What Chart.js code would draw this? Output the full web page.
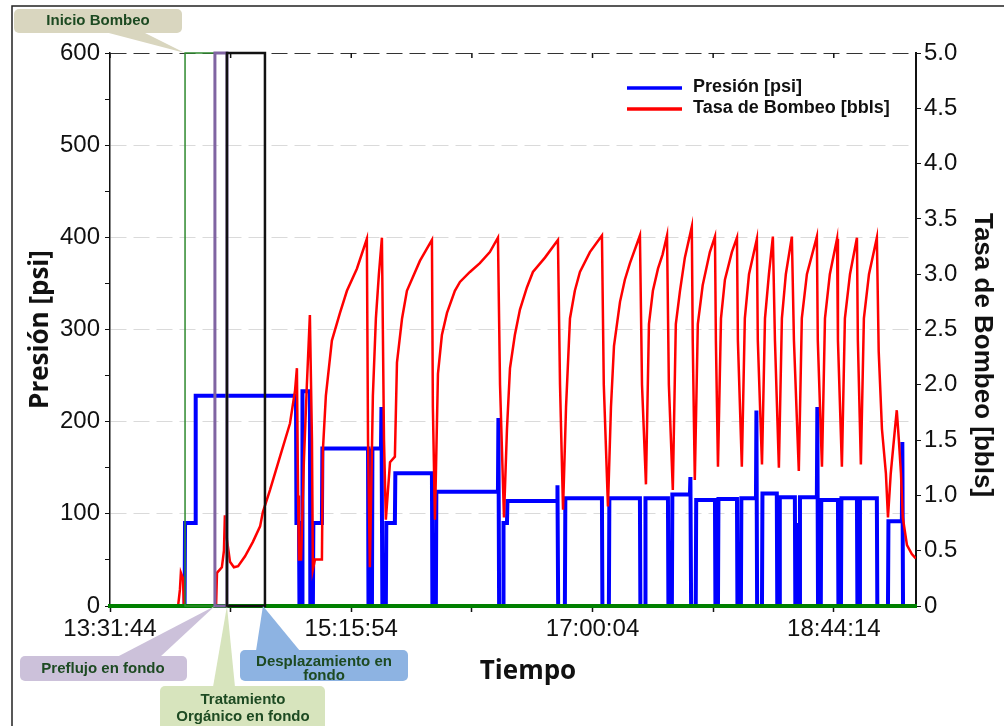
<!DOCTYPE html>
<html>
<head>
<meta charset="utf-8">
<title>Presión y Tasa de Bombeo</title>
<script src="https://cdn.jsdelivr.net/npm/chart.js@4.4.1/dist/chart.umd.min.js"></script>
<style>
  html, body { margin: 0; padding: 0; background: #fff; }
  canvas { display: block; }
</style>
</head>
<body>
<canvas id="chart" width="1004" height="726"></canvas>
<script>
// Time axis: minutes elapsed since the start of the log
const startTime = '13:31:44';
const timeLabels = ['13:31:44', '15:15:54', '17:00:04', '18:44:14'];
const endMinute = 348;

// Presión [psi]
const pressureTime = [
  0, 32.2, 32.4, 36.8, 37.0, 80.3, 80.5, 81.6, 81.8, 82.9,
  83.1, 86.3, 86.5, 87.6, 87.8, 91.5, 91.7, 111.4, 111.6, 113.1,
  113.3, 117.0, 117.2, 117.6, 119.1, 119.3, 123.0, 123.2, 139.0, 139.2,
  140.7, 140.9, 167.5, 167.7, 168.0, 169.7, 169.9, 171.4, 171.6, 193.0,
  193.2, 193.5, 196.4, 196.6, 212.4, 212.6, 215.4, 215.6, 228.8, 229.0,
  231.0, 231.2, 240.9, 241.1, 242.6, 242.8, 250.4, 250.6, 250.9, 252.9,
  253.1, 261.2, 261.4, 262.5, 262.7, 270.7, 270.9, 272.4, 272.6, 278.9,
  279.1, 279.4, 281.5, 281.7, 287.9, 288.1, 289.0, 289.2, 295.7, 295.9,
  296.3, 296.7, 297.1, 297.5, 297.9, 305.2, 305.4, 305.7, 306.9, 307.1,
  314.3, 314.5, 315.6, 315.8, 322.5, 322.7, 323.6, 323.8, 331.1, 331.3,
  335.9, 336.1, 341.9, 342.1, 342.4, 348
];
const pressure = [
  0, 0, 90, 90, 228, 228, 90, 90, 0, 0,
  233, 233, 0, 0, 90, 90, 171, 171, 0, 0,
  171, 171, 216, 0, 0, 90, 90, 144, 144, 0,
  0, 124, 124, 204, 0, 0, 90, 90, 114, 114,
  131, 0, 0, 117, 117, 0, 0, 117, 117, 0,
  0, 117, 117, 0, 0, 121, 121, 140, 0, 0,
  115, 115, 0, 0, 116, 116, 0, 0, 117, 117,
  212, 0, 0, 122, 122, 0, 0, 118, 118, 0,
  90, 0, 90, 0, 118, 118, 216, 0, 0, 115,
  115, 0, 0, 117, 117, 0, 0, 117, 117, 0,
  0, 92, 92, 178, 0, 0
];

// Tasa de Bombeo [bbls]
const rateTime = [
  0, 29.4, 30.2, 30.6, 31.5, 31.9,
  45.8, 46.2, 48.3, 49.2, 49.6, 50.5, 51.8, 53.5, 55.3, 58.3, 61.7, 64.8, 66.0, 69.1, 73.4, 77.7, 79.9, 80.7,
  81.2, 81.6, 82.5, 83.7, 85.0, 86.3,
  87.2, 87.6, 88.5, 91.5, 91.9, 93.2, 95.8, 99.3, 102.3, 106.6, 110.9,
  111.4, 112.2, 113.5, 114.8, 116.1, 117.4,
  118.3, 119.1, 120.9, 123.0, 123.9, 126.1, 128.2, 133.8, 139.0,
  139.4, 140.3, 141.6, 143.3, 145.5, 148.9, 151.1, 155.4, 159.7, 164.0, 167.5,
  168.4, 170.1, 171.4, 172.7, 174.8, 177.0, 180.0, 182.6, 187.8, 193.4,
  194.3, 195.6, 196.9, 198.6, 200.7, 202.9, 207.2, 212.4,
  213.2, 215.0, 216.3, 217.6, 220.2, 222.3, 224.5, 228.8,
  229.7, 231.4, 232.7, 234.4, 236.6, 238.6, 240.5,
  241.3, 243.0, 244.3, 246.1, 248.2, 251.2,
  251.6, 252.5, 253.8, 255.9, 259.0, 261.2,
  261.6, 262.5, 263.8, 265.5, 268.5, 270.7,
  271.1, 272.8, 274.1, 275.9, 279.3,
  279.7, 281.5, 282.8, 284.5, 286.2,
  287.1, 288.8, 290.1, 291.8, 294.4,
  295.3, 297.4, 298.7, 300.9, 305.2,
  305.6, 307.4, 308.7, 310.8, 313.9,
  314.3, 316.0, 317.3, 319.5, 322.5,
  322.9, 324.2, 325.5, 327.7, 331.1,
  331.9, 333.3, 335.0, 335.9, 337.1, 338.9, 339.7, 340.6, 341.5, 342.3, 344.1, 346.2, 347.9
];
const rate = [
  0, 0, 0.15, 0.3, 0.25, 0,
  0, 0.3, 0.35, 0.5, 0.82, 0.6, 0.4, 0.35, 0.36, 0.45, 0.58, 0.72, 0.85, 1.05, 1.35, 1.65, 1.95, 2.15,
  1.0, 0.42, 0.42, 1.3, 2.0, 2.63,
  1.5, 0.33, 0.42, 0.42, 1.4, 1.9, 2.4, 2.65, 2.85, 3.05, 3.32,
  1.5, 0.35, 1.9, 2.6, 3.0, 3.33,
  1.5, 0.78, 1.3, 1.35, 2.2, 2.6, 2.85, 3.12, 3.31,
  1.8, 0.78, 2.1, 2.45, 2.65, 2.85, 2.93, 3.02, 3.1, 3.2, 3.33,
  2.0, 0.8, 1.6, 2.15, 2.45, 2.68, 2.88, 3.02, 3.15, 3.31,
  2.0, 0.87, 1.8, 2.6, 2.85, 3.02, 3.2, 3.35,
  2.0, 0.9, 1.8, 2.35, 2.75, 2.95, 3.1, 3.35,
  2.0, 1.1, 2.55, 2.85, 3.05, 3.18, 3.35,
  2.0, 1.05, 2.55, 2.85, 3.15, 3.43,
  2.4, 1.14, 2.55, 2.9, 3.2, 3.34,
  2.4, 1.26, 2.6, 2.95, 3.2, 3.33,
  2.4, 1.26, 2.6, 3.0, 3.32,
  2.4, 1.28, 2.6, 3.0, 3.34,
  2.4, 1.25, 2.6, 3.0, 3.34,
  2.4, 1.22, 2.6, 3.0, 3.34,
  2.4, 1.26, 2.6, 3.0, 3.32,
  2.4, 1.26, 2.6, 3.0, 3.33,
  2.4, 1.28, 2.6, 3.0, 3.33,
  2.3, 1.6, 1.2, 0.8, 1.2, 1.6, 1.77, 1.5, 1.2, 0.8, 0.55, 0.47, 0.43
];

// Stage limits (minutes from start): inicio, preflujo, tratamiento, fin desplazamiento
const stageEdges = [32.4, 45.3, 50.5, 66.9];

function toSeconds(hms) {
  const p = hms.split(':').map(Number);
  return p[0] * 3600 + p[1] * 60 + p[2];
}

const labelMinutes = timeLabels.map(t => (toSeconds(t) - toSeconds(startTime)) / 60);

// major ticks with a minor tick half way between them
function buildTimeTicks() {
  const step = labelMinutes[1] - labelMinutes[0];
  const ticks = [];
  for (let v = 0; v <= endMinute + 0.01; v += step / 2) ticks.push({ value: v });
  return ticks;
}

function timeLabel(value) {
  const idx = labelMinutes.findIndex(m => Math.abs(m - value) < 0.01);
  return idx >= 0 ? timeLabels[idx] : '';
}

const tickFont = { family: "'Liberation Sans', Arial, sans-serif", size: 24 };
const titleFont = { family: "'Open Sans', sans-serif", size: 26, weight: 'bold' };
const noteFont = 'bold 15px "Liberation Sans", Arial, sans-serif';
const noteText = '#1d4a22';

function callout(ctx, box, base, tip, fill, lines) {
  ctx.save();
  ctx.fillStyle = fill;
  ctx.beginPath();
  ctx.roundRect(box.x, box.y, box.w, box.h, 5);
  ctx.fill();
  ctx.beginPath();
  ctx.moveTo(base[0], base[2]);
  ctx.lineTo(base[1], base[2]);
  ctx.lineTo(tip.x, tip.y);
  ctx.closePath();
  ctx.fill();
  ctx.fillStyle = noteText;
  ctx.font = noteFont;
  ctx.textAlign = 'center';
  ctx.textBaseline = 'middle';
  lines.forEach(l => ctx.fillText(l.text, l.x, l.y));
  ctx.restore();
}

const overlay = {
  id: 'overlay',
  beforeDraw(chart) {
    const ctx = chart.ctx;
    ctx.save();
    ctx.fillStyle = '#fff';
    ctx.fillRect(0, 0, chart.width, chart.height);
    ctx.restore();
  },
  afterDraw(chart) {
    const { ctx, chartArea: a, scales: { x } } = chart;
    const px = stageEdges.map(v => x.getPixelForValue(v));

    // stage boxes, drawn over the lines and the green base line
    ctx.save();
    ctx.strokeStyle = '#2f8a2f';
    ctx.lineWidth = 1.5;
    ctx.strokeRect(px[0], a.top, px[1] - px[0], a.bottom - a.top);
    ctx.strokeStyle = '#8064a2';
    ctx.lineWidth = 3;
    ctx.strokeRect(px[1], a.top, px[2] - px[1], a.bottom - a.top);
    ctx.strokeStyle = '#111';
    ctx.lineWidth = 2.5;
    ctx.strokeRect(px[2], a.top, px[3] - px[2], a.bottom - a.top);

    // small inward ticks on the top edge
    ctx.strokeStyle = '#111';
    ctx.lineWidth = 1.5;
    x.ticks.forEach(t => {
      const p = x.getPixelForValue(t.value);
      ctx.beginPath();
      ctx.moveTo(p, a.top);
      ctx.lineTo(p, a.top + 5);
      ctx.stroke();
    });

    // legend
    ctx.font = 'bold 18px "Liberation Sans", Arial, sans-serif';
    ctx.textBaseline = 'middle';
    ctx.textAlign = 'left';
    const ds = chart.data.datasets;
    [ds[0], ds[1]].forEach((d, i) => {
      const y = 88 + i * 21;
      ctx.strokeStyle = d.borderColor;
      ctx.lineWidth = 3.5;
      ctx.beginPath();
      ctx.moveTo(627, y);
      ctx.lineTo(682, y);
      ctx.stroke();
      ctx.fillStyle = '#111';
      ctx.fillText(d.label, 693, y - 1);
    });

    // axis titles placed as in the original figure
    ctx.fillStyle = '#111';
    ctx.textAlign = 'center';
    ctx.font = 'bold 26px "Open Sans", sans-serif';
    ctx.fillText('Tiempo', 528, 672);
    ctx.save();
    ctx.translate(982, 355);
    ctx.rotate(Math.PI / 2);
    ctx.font = 'bold 26px "Liberation Sans", Arial, sans-serif';
    ctx.fillText('Tasa de Bombeo [bbls]', 0, 0);
    ctx.restore();

    // frame around the figure
    ctx.strokeStyle = '#222';
    ctx.lineWidth = 1.5;
    ctx.beginPath();
    ctx.moveTo(12, 726);
    ctx.lineTo(12, 6);
    ctx.lineTo(1004, 6);
    ctx.stroke();
    ctx.restore();

    callout(ctx, { x: 14, y: 9, w: 168, h: 24 }, [105, 143, 32], { x: px[0], y: a.top },
      '#d9d6bf', [{ text: 'Inicio Bombeo', x: 98, y: 21 }]);
    callout(ctx, { x: 20, y: 656, w: 167, h: 25 }, [117, 160, 657], { x: px[1], y: a.bottom },
      '#ccc1da', [{ text: 'Preflujo en fondo', x: 103, y: 669 }]);
    callout(ctx, { x: 160, y: 686, w: 165, h: 50 }, [213, 235, 687], { x: px[2], y: a.bottom },
      '#d7e4bd', [{ text: 'Tratamiento', x: 243, y: 700 }, { text: 'Orgánico en fondo', x: 243, y: 717 }]);
    callout(ctx, { x: 240, y: 650, w: 168, h: 31 }, [256, 300, 651], { x: px[3] - 2, y: a.bottom },
      '#8db3e2', [{ text: 'Desplazamiento en', x: 324, y: 662 }, { text: 'fondo', x: 324, y: 676 }]);
  }
};

const pressurePoints = pressureTime.map((t, i) => ({ x: t, y: pressure[i] }));
const ratePoints = rateTime.map((t, i) => ({ x: t, y: rate[i] }));

new Chart(document.getElementById('chart'), {
  type: 'line',
  data: {
    datasets: [
      {
        label: 'Presión [psi]',
        data: pressurePoints,
        yAxisID: 'y',
        borderColor: '#0000ff',
        borderWidth: 4,
        pointRadius: 0,
        order: 1
      },
      {
        label: 'Tasa de Bombeo [bbls]',
        data: ratePoints,
        yAxisID: 'y2',
        borderColor: '#ff0000',
        borderWidth: 2.5,
        pointRadius: 0,
        order: 0
      }
    ]
  },
  options: {
    responsive: false,
    animation: false,
    devicePixelRatio: 1,
    layout: { padding: { left: 14, right: 10, top: 53, bottom: 0 } },
    plugins: { legend: { display: false }, tooltip: { enabled: false } },
    scales: {
      x: {
        type: 'linear',
        min: 0,
        max: endMinute,
        afterBuildTicks: scale => { scale.ticks = buildTimeTicks(); },
        afterFit: scale => { scale.height = 120; },
        ticks: { autoSkip: false, maxRotation: 0, padding: 3, color: '#111', font: tickFont, callback: v => timeLabel(v) },
        grid: { drawOnChartArea: false, tickLength: 6, tickColor: '#111', tickWidth: 1.5 },
        border: { color: '#008000', width: 4, z: 1 },
        title: { display: false }
      },
      y: {
        position: 'left',
        min: 0,
        max: 600,
        afterFit: scale => { scale.width = 96; },
        ticks: { stepSize: 50, padding: 5, color: '#111', font: tickFont, callback: v => (v % 100 === 0 ? v : '') },
        grid: {
          tickLength: 5,
          tickColor: '#111',
          color: c => (c.tick.value % 100 !== 0 ? 'rgba(0,0,0,0)' : (c.tick.value === 600 ? '#333' : '#dadada'))
        },
        border: { color: '#111', width: 1.5, dash: [16, 7] },
        title: { display: true, text: 'Presión [psi]', color: '#111', font: titleFont, padding: { top: 11, bottom: 0 } }
      },
      y2: {
        position: 'right',
        min: 0,
        max: 5,
        afterFit: scale => { scale.width = 78; },
        ticks: { stepSize: 0.25, padding: 3, color: '#111', font: tickFont,
          callback: v => (Math.abs(v * 2 - Math.round(v * 2)) > 0.01 ? '' : (v === 0 ? '0' : v.toFixed(1))) },
        grid: { drawOnChartArea: false, tickLength: 5, tickColor: '#111' },
        border: { color: '#111', width: 2 },
        title: { display: false }
      }
    }
  },
  plugins: [overlay]
});
</script>
</body>
</html>
